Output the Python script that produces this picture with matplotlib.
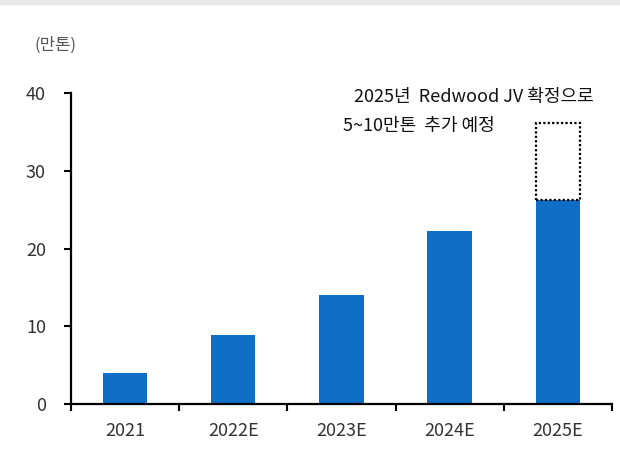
import matplotlib.pyplot as plt
from matplotlib.patches import Rectangle

plt.rcParams['font.family'] = ['Noto Sans CJK KR', 'DejaVu Sans']

years = ['2021', '2022E', '2023E', '2024E', '2025E']
capa = [4.0, 8.9, 14.0, 22.3, 26.2]
jv_extra = 10.0  # 5~10만톤 추가 (dotted box on 2025E)

fig = plt.figure(figsize=(6.2, 4.54), dpi=100)
fig.patches.append(Rectangle((0, 0.991), 1, 0.009, transform=fig.transFigure,
                             color='#e8e8e8', zorder=0))
ax = fig.add_axes([0.1145, 0.110, 0.8725, 0.685])

x = list(range(len(years)))
ax.bar(x, capa, width=0.41, color='#0f6fc6', zorder=2)
ax.bar(x[-1], jv_extra, bottom=capa[-1], width=0.41, facecolor='none',
       edgecolor='black', linestyle=(0, (1, 1)), linewidth=1.6, zorder=3)

ax.set_xlim(-0.5, len(years) - 0.5)
ax.set_ylim(0, 40)
ax.set_yticks([0, 10, 20, 30, 40])
ax.set_xticks(x)
ax.set_xticklabels(years)
ax.set_xticks([i - 0.5 for i in range(len(years) + 1)], minor=True)
ax.tick_params(axis='x', which='major', length=0, pad=13, labelsize=13, labelcolor='#333333')
ax.tick_params(axis='x', which='minor', length=5, width=1.5, direction='out')
ax.tick_params(axis='y', length=5, width=1.5, direction='out', pad=13,
               labelsize=13, labelcolor='#333333')

for s in ['top', 'right']:
    ax.spines[s].set_visible(False)
for s in ['left', 'bottom']:
    ax.spines[s].set_linewidth(1.6)

fig.text(0.056, 0.9, '(만톤)', fontsize=12, color='#555555', va='center')
fig.text(0.571, 0.786, '2025년  Redwood JV 확정으로', fontsize=13, color='#111111', va='center')
fig.text(0.553, 0.722, '5~10만톤  추가 예정', fontsize=13, color='#111111', va='center')

fig.savefig('out.png', dpi=100)
